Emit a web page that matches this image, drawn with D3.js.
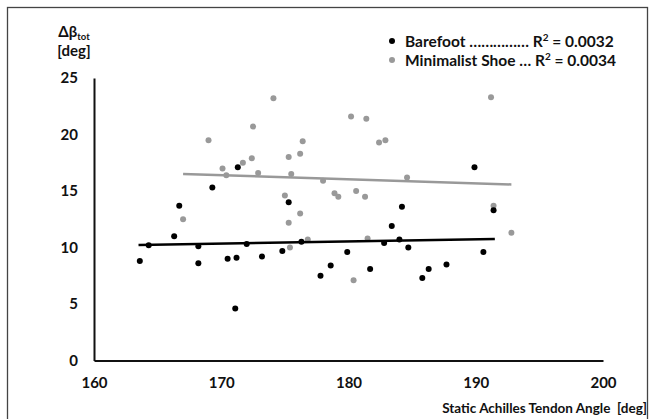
<html>
<script src="https://d3js.org/d3.v7.min.js"></script>
<style>
  body { margin: 0; background: white; }
  text { font-family: Lato, "Open Sans", sans-serif; font-weight: bold; fill: #111; }
</style>
<body>
<script>
// values
var barefootX = [163.6, 164.3, 166.3, 166.7, 168.2, 168.2, 169.3, 170.5, 171.2, 171.1, 171.3, 172.0, 173.2, 174.8, 175.3, 176.3, 177.8, 178.6, 179.9, 181.7, 182.8, 183.4, 184.0, 184.2, 184.7, 185.8, 186.3, 187.7, 189.9, 190.6, 191.4];
var barefootY = [8.8, 10.2, 11.0, 13.7, 10.1, 8.6, 15.3, 9.0, 9.1, 4.6, 17.1, 10.3, 9.2, 9.7, 14.0, 10.5, 7.5, 8.4, 9.6, 8.1, 10.4, 11.9, 10.7, 13.6, 10.0, 7.3, 8.1, 8.5, 17.1, 9.6, 13.3];
var shoeX = [167.0, 169.0, 170.1, 170.4, 171.7, 172.4, 172.5, 172.9, 174.1, 175.0, 175.3, 175.3, 175.4, 175.5, 176.2, 176.2, 176.4, 176.8, 178.0, 178.9, 179.2, 180.2, 180.4, 180.6, 181.3, 181.4, 181.5, 182.4, 182.9, 184.6, 191.2, 191.4, 192.8];
var shoeY = [12.5, 19.5, 17.0, 16.4, 17.5, 17.9, 20.7, 16.6, 23.2, 14.6, 18.0, 12.2, 10.0, 16.5, 13.0, 18.3, 19.4, 10.7, 15.9, 14.8, 14.5, 21.6, 7.1, 15.0, 14.5, 21.4, 10.8, 19.3, 19.5, 16.2, 23.3, 13.7, 11.3];
// trend lines: [x start, y start, x end, y end]
var barefootTrend = [163.5, 10.22, 191.5, 10.75];
var shoeTrend = [167.0, 16.50, 192.8, 15.58];
var xTicks = [160, 170, 180, 190, 200];
var yTicks = [0, 5, 10, 15, 20, 25];

var W = 655, H = 419;
var svg = d3.select("body").append("svg").attr("width", W).attr("height", H);

// outer frame
svg.append("rect").attr("x", 7.5).attr("y", 7.5).attr("width", 640).attr("height", 420)
  .attr("fill", "none").attr("stroke", "#444").attr("stroke-width", 1.3);

var x = d3.scaleLinear().domain([160, 200]).range([94, 603]);
var y = d3.scaleLinear().domain([0, 25]).range([360.5, 78]);

// axes
var xAxis = svg.append("g").attr("transform", "translate(0," + y(0) + ")")
  .call(d3.axisBottom(x).tickValues(xTicks).tickSize(0).tickPadding(17));
var yAxis = svg.append("g").attr("transform", "translate(" + x(160) + ",0)")
  .call(d3.axisLeft(y).tickValues(yTicks).tickSize(0).tickPadding(16));
[xAxis, yAxis].forEach(function(a){
  a.select(".domain").attr("stroke", "#111").attr("stroke-width", 2);
  a.selectAll("text").style("font-size", "15px").style("font-family", "Lato, sans-serif").style("font-weight", "bold").attr("fill", "#111");
});

var grey = "#999999";

// points
svg.append("g").selectAll("circle").data(shoeX).enter().append("circle")
  .attr("cx", function(d){ return x(d); })
  .attr("cy", function(d, i){ return y(shoeY[i]); })
  .attr("r", 3).attr("fill", grey);
svg.append("g").selectAll("circle").data(barefootX).enter().append("circle")
  .attr("cx", function(d){ return x(d); })
  .attr("cy", function(d, i){ return y(barefootY[i]); })
  .attr("r", 3).attr("fill", "#000");

// trend lines
[[shoeTrend, grey], [barefootTrend, "#000"]].forEach(function(t){
  var p = t[0];
  svg.append("line")
    .attr("x1", x(p[0])).attr("y1", y(p[1])).attr("x2", x(p[2])).attr("y2", y(p[3]))
    .attr("stroke", t[1]).attr("stroke-width", 2.5);
});

// y title
var yt = svg.append("text").attr("x", 74).attr("y", 37).attr("text-anchor", "middle").style("font-size", "15px");
yt.append("tspan").text("Δβ");
yt.append("tspan").attr("dy", 3).style("font-size", "9.5px").text("tot");
svg.append("text").attr("x", 74).attr("y", 56).attr("text-anchor", "middle").style("font-size", "15px").text("[deg]");

// x title
svg.append("text").attr("x", 647).attr("y", 413).attr("text-anchor", "end").style("font-size", "13.5px")
  .attr("xml:space", "preserve").style("white-space", "pre")
  .text("Static Achilles Tendon Angle  [deg]");

// legend
var legend = [["Barefoot …………… R", "= 0.0032", "#000"], ["Minimalist Shoe … R", "= 0.0034", grey]];
legend.forEach(function(l, i){
  var ly = 41 + i * 19;
  svg.append("circle").attr("cx", 392).attr("cy", ly).attr("r", 3).attr("fill", l[2]);
  var t = svg.append("text").attr("x", 405).attr("y", ly + 5.5).style("font-size", "15.5px");
  t.append("tspan").text(l[0]);
  t.append("tspan").attr("dy", -6).style("font-size", "10px").text("2");
  t.append("tspan").attr("dy", 6).text(" " + l[1]);
});
</script>
</body>
</html>
